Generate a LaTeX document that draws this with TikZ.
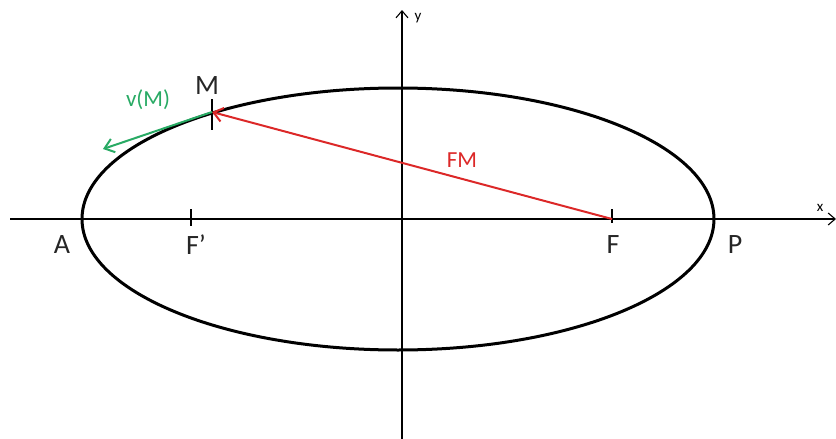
\documentclass[tikz,border=0pt]{standalone}
\usepackage{fontspec}
\setmainfont{Carlito}
\usetikzlibrary{arrows.meta}
\definecolor{fmred}{RGB}{220,40,40}
\definecolor{vgreen}{RGB}{40,170,100}
\begin{document}
\begin{tikzpicture}[x=1pt,y=-1pt,
  axis/.style={line width=1.1pt},
  tick/.style={line width=1.6pt},
  lbl/.style={font=\fontsize{28}{28}\selectfont, text=black!85},
  small/.style={font=\fontsize{15}{15}\selectfont},
  vec/.style={line width=2pt,-{Straight Barb[length=9pt,width=14pt]}}]
\useasboundingbox (0,0) rectangle (836,439);
% axes
\coordinate (xs) at (10,219);
\coordinate (xe) at (836,219);
\coordinate (ys) at (402,439);
\coordinate (ye) at (402,10);
\draw[axis,-{Straight Barb[length=7pt,width=12pt]}] (xs) -- (xe);
\draw[axis,-{Straight Barb[length=7pt,width=12pt]}] (ys) -- (ye);
\node[small] (xl) at (820,208) {x};
\node[small] (yl) at (418,18) {y};
% ellipse
\draw[line width=3pt] (398,219) ellipse [x radius=316, y radius=131];
% foci
\coordinate (F) at (612,219);
\coordinate (Fp) at (191,219);
\coordinate (M) at (212,112);
\draw[tick] (612,209) -- (612,223);
\draw[tick] (191,209) -- (191,226);
\draw[tick] (212,99) -- (212,130);
% labels
\node[lbl] (lA) at (62,245) {A};
\node[lbl] (lFp) at (196,245) {F’};
\node[lbl] (lF) at (613,245) {F};
\node[lbl] (lP) at (735,245) {P};
\node[lbl] (lM) at (207,86) {M};
% vectors
\coordinate (V) at (103,149);
\draw[vec,fmred] (F) -- (M);
\draw[vec,vgreen] (M) -- (V);
\node[font=\fontsize{23}{23}\selectfont, text=fmred] (lFM) at (462,160) {FM};
\node[font=\fontsize{23}{23}\selectfont, text=vgreen] (lv) at (148,100) {v(M)};
\end{tikzpicture}
\end{document}
